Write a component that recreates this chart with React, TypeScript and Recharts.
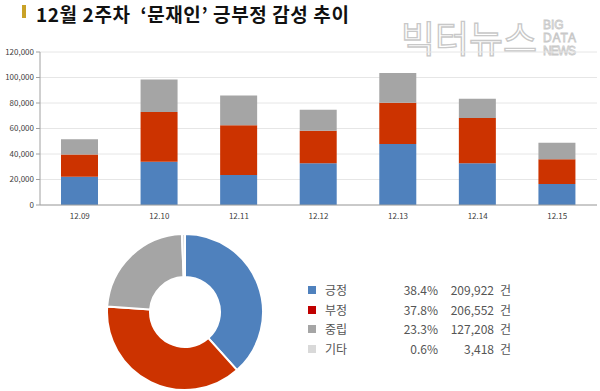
import React from "react";
import { BarChart, Bar, XAxis, YAxis, CartesianGrid, PieChart, Pie, Cell } from "recharts";

const dates = ["12.09", "12.10", "12.11", "12.12", "12.13", "12.14", "12.15"];
const positive = [22200, 34000, 23500, 32700, 47800, 32700, 16500];
const negative = [17500, 39000, 39000, 25500, 32300, 35600, 19300];
const neutral = [11800, 25500, 23400, 16600, 23400, 15000, 13100];
const yTicks = [0, 20000, 40000, 60000, 80000, 100000, 120000];

const legendNames = ["긍정", "부정", "중립", "기타"];
const legendPercents = ["38.4%", "37.8%", "23.3%", "0.6%"];
const legendCounts = [209922, 206552, 127208, 3418];

const barColors = ["#4F81BD", "#CC3300", "#A5A5A5"];
const pieColors = ["#4F81BD", "#CC3300", "#A5A5A5", "#D9D9D9"];
const legendColors = ["#4F81BD", "#C00000", "#A5A5A5", "#D9D9D9"];

const barData = dates.map((d, i) => ({ date: d, pos: positive[i], neg: negative[i], neu: neutral[i] }));
const pieData = legendNames.map((n, i) => ({ name: n, value: legendCounts[i] }));

const FONT = "'Noto Sans CJK KR', 'Noto Sans', sans-serif";

export default function App() {
  return (
    <div style={{ position: "absolute", left: 0, top: 0, width: 600, height: 391, background: "#fff", fontFamily: FONT, overflow: "hidden" }}>
      {/* title */}
      <div style={{ position: "absolute", left: 22, top: 5, width: 4, height: 13, background: "#C9A227" }} />
      <div style={{ position: "absolute", left: 36, top: 3, fontSize: 19, lineHeight: "22px", fontWeight: 700, color: "#111", whiteSpace: "pre", letterSpacing: 0.6 }}>
        12월 2주차  ‘문재인’ 긍부정 감성 추이
      </div>
      {/* watermark */}
      <svg style={{ position: "absolute", left: 0, top: 0 }} width={600} height={70}>
        <text x={401} y={53} fontSize={37} fontFamily={FONT} fill="#fff" stroke="#C8C8C8" strokeWidth={1.3} fontWeight={400} textLength={136}>빅터뉴스</text>
        <text x={543} y={29} fontSize={12} fontFamily="'Liberation Sans', sans-serif" fill="#fff" stroke="#C8C8C8" strokeWidth={0.8}>BIG</text>
        <text x={543} y={42} fontSize={12} fontFamily="'Liberation Sans', sans-serif" fill="#fff" stroke="#C8C8C8" strokeWidth={0.8} textLength={33}>DATA</text>
        <text x={543} y={55} fontSize={12} fontFamily="'Liberation Sans', sans-serif" fill="#fff" stroke="#C8C8C8" strokeWidth={0.8} textLength={33}>NEWS</text>
      </svg>
      <div style={{ position: "absolute", left: 0, top: 0 }}>
        <BarChart width={600} height={225} data={barData} margin={{ top: 52, right: 3, left: 0, bottom: 0 }} barSize={37}>
          <CartesianGrid vertical={false} stroke="#E6E6E6" />
          <XAxis dataKey="date" tick={{ fontSize: 8, fill: "#404040", fontFamily: FONT }} tickLine={false} axisLine={{ stroke: "#A0A0A0" }} height={20} />
          <YAxis ticks={yTicks} domain={[0, 120000]} width={40} tickFormatter={(v: number) => v.toLocaleString("en-US")} tick={{ fontSize: 8, fill: "#404040", fontFamily: FONT }} axisLine={{ stroke: "#A0A0A0" }} tickLine={{ stroke: "#A0A0A0" }} tickSize={4} interval={0} />
          <Bar dataKey="pos" stackId="a" fill={barColors[0]} isAnimationActive={false} />
          <Bar dataKey="neg" stackId="a" fill={barColors[1]} isAnimationActive={false} />
          <Bar dataKey="neu" stackId="a" fill={barColors[2]} isAnimationActive={false} />
        </BarChart>
      </div>
      <div style={{ position: "absolute", left: 80, top: 222 }}>
        <PieChart width={200} height={170}>
          <Pie data={pieData} dataKey="value" cx={100} cy={85} innerRadius={35} outerRadius={78} startAngle={90} endAngle={-270} stroke="#fff" strokeWidth={2} isAnimationActive={false}>
            {pieData.map((d, i) => (
              <Cell key={d.name} fill={pieColors[i]} />
            ))}
          </Pie>
        </PieChart>
      </div>
      {/* legend */}
      {legendNames.map((n, i) => {
        const top = 282 + i * 19.5;
        return (
          <React.Fragment key={n}>
            <div style={{ position: "absolute", left: 308, top: top + 4, width: 8, height: 8, background: legendColors[i] }} />
            <div style={{ position: "absolute", left: 325, top, fontSize: 12, color: "#555", lineHeight: "16px" }}>{n}</div>
            <div style={{ position: "absolute", left: 380, width: 58, textAlign: "right", top, fontSize: 12, color: "#555", lineHeight: "16px" }}>{legendPercents[i]}</div>
            <div style={{ position: "absolute", left: 430, width: 64, textAlign: "right", top, fontSize: 12, color: "#555", lineHeight: "16px" }}>{legendCounts[i].toLocaleString("en-US")}</div>
            <div style={{ position: "absolute", left: 500, top, fontSize: 12, color: "#555", lineHeight: "16px" }}>건</div>
          </React.Fragment>
        );
      })}
    </div>
  );
}
